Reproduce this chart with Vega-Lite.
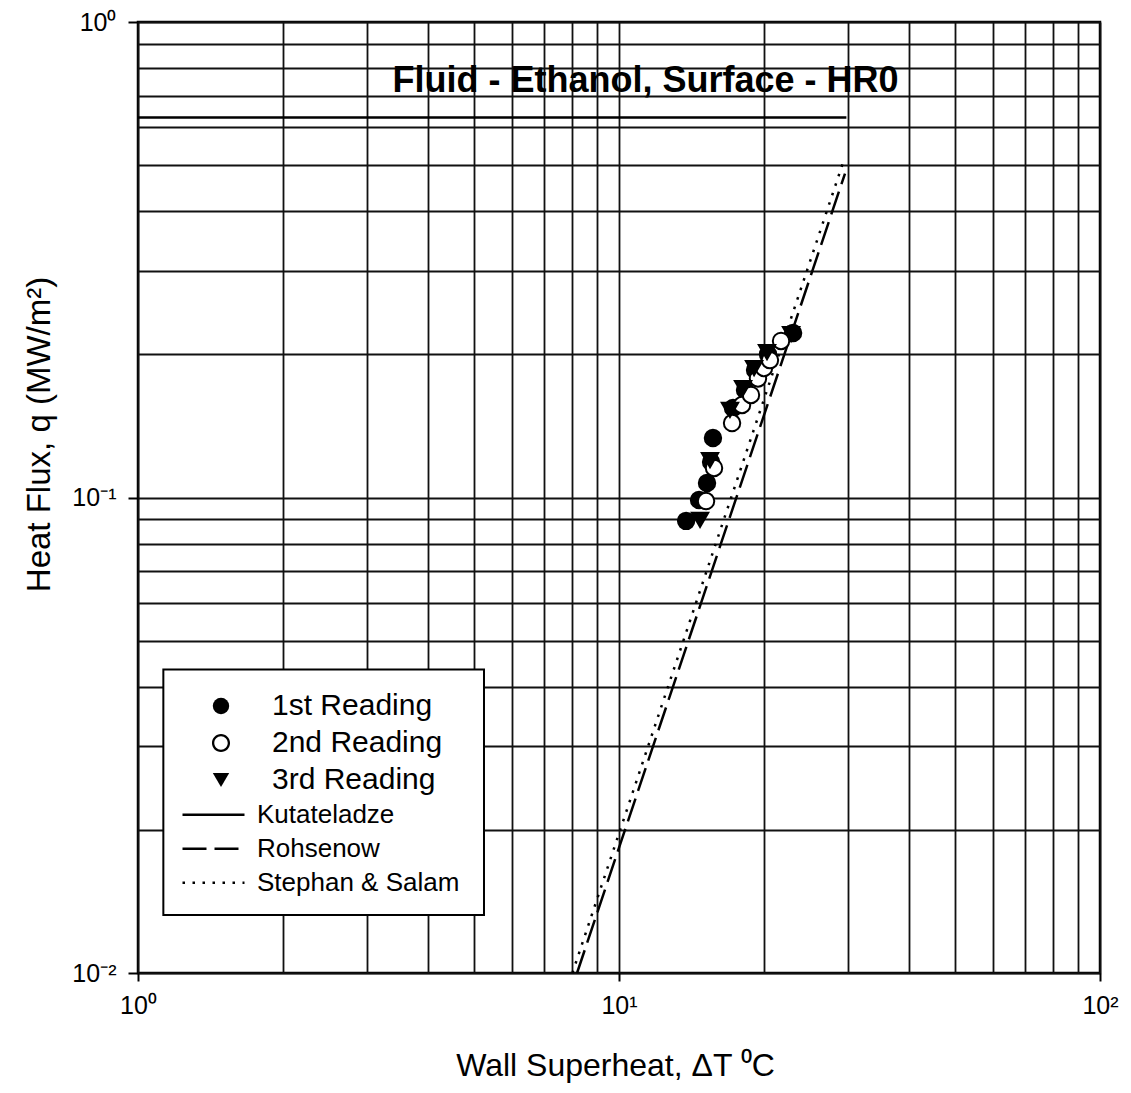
{
  "$schema": "https://vega.github.io/schema/vega-lite/v6.json",
  "width": 962,
  "height": 951,
  "autosize": {"type": "none"},
  "padding": {"left": 138, "top": 22, "right": 31, "bottom": 120},
  "background": "white",
  "config": {
    "view": {"stroke": "black", "strokeWidth": 2.5},
    "font": "Liberation Sans",
    "axis": {
      "grid": true,
      "gridColor": "#111111",
      "gridWidth": 1.8,
      "gridOpacity": 1,
      "domain": false,
      "tickColor": "black",
      "tickWidth": 2,
      "labelColor": "black",
      "labelFont": "Liberation Sans",
      "labelFontSize": 25,
      "labelOverlap": false,
      "labelFlush": false,
      "titleColor": "black",
      "titleFont": "Liberation Sans",
      "titleFontWeight": "normal"
    }
  },
  "resolve": {"scale": {"shape": "independent"}},
  "datasets": {
    "readings": [
      {"reading": "1st Reading", "dT": 13.79, "q": 0.0893},
      {"reading": "1st Reading", "dT": 14.67, "q": 0.0988},
      {"reading": "1st Reading", "dT": 15.24, "q": 0.1073},
      {"reading": "1st Reading", "dT": 15.54, "q": 0.1188},
      {"reading": "1st Reading", "dT": 15.68, "q": 0.1334},
      {"reading": "1st Reading", "dT": 17.26, "q": 0.1543},
      {"reading": "1st Reading", "dT": 18.28, "q": 0.1683},
      {"reading": "1st Reading", "dT": 19.18, "q": 0.1854},
      {"reading": "1st Reading", "dT": 20.41, "q": 0.2002},
      {"reading": "1st Reading", "dT": 23.01, "q": 0.2218},
      {"reading": "2nd Reading", "dT": 15.17, "q": 0.0983},
      {"reading": "2nd Reading", "dT": 15.76, "q": 0.1154},
      {"reading": "2nd Reading", "dT": 17.18, "q": 0.1434},
      {"reading": "2nd Reading", "dT": 18.02, "q": 0.1565},
      {"reading": "2nd Reading", "dT": 18.81, "q": 0.1643},
      {"reading": "2nd Reading", "dT": 19.45, "q": 0.178},
      {"reading": "2nd Reading", "dT": 20.02, "q": 0.1872},
      {"reading": "2nd Reading", "dT": 20.6, "q": 0.1945},
      {"reading": "2nd Reading", "dT": 21.72, "q": 0.2134},
      {"reading": "3rd Reading", "dT": 14.74, "q": 0.0897},
      {"reading": "3rd Reading", "dT": 15.46, "q": 0.1199},
      {"reading": "3rd Reading", "dT": 17.01, "q": 0.1528},
      {"reading": "3rd Reading", "dT": 18.11, "q": 0.1699},
      {"reading": "3rd Reading", "dT": 19.09, "q": 0.1872},
      {"reading": "3rd Reading", "dT": 20.31, "q": 0.2022},
      {"reading": "3rd Reading", "dT": 22.79, "q": 0.2207}
    ],
    "correlations": [
      {"model": "Kutateladze", "dT": 1, "q": 0.63},
      {"model": "Kutateladze", "dT": 29.7, "q": 0.63},
      {"model": "Rohsenow", "dT": 8.18, "q": 0.01},
      {"model": "Rohsenow", "dT": 29.5, "q": 0.48},
      {"model": "Stephan & Salam", "dT": 8.0, "q": 0.01},
      {"model": "Stephan & Salam", "dT": 29.3, "q": 0.51}
    ]
  },
  "layer": [
    {
      "data": {"name": "correlations"},
      "mark": {"type": "line", "color": "black", "strokeWidth": 2.5},
      "encoding": {
        "x": {
          "field": "dT",
          "type": "quantitative",
          "scale": {"type": "log", "domain": [1, 100], "nice": false},
          "axis": {
            "values": [1, 2, 3, 4, 5, 6, 7, 8, 9, 10, 20, 30, 40, 50, 60, 70, 80, 90, 100],
            "labelExpr": "datum.value == 1 ? '10⁰' : datum.value == 10 ? '10¹' : datum.value == 100 ? '10²' : ''",
            "tickSize": 8,
            "tickOpacity": {"condition": {"test": "datum.value == 1 || datum.value == 10 || datum.value == 100", "value": 1}, "value": 0},
            "labelPadding": 12,
            "title": "Wall Superheat, ΔT ⁰C",
            "titleFontSize": 32,
            "titleX": 477,
            "titleY": 92,
            "titleBaseline": "middle"
          }
        },
        "y": {
          "field": "q",
          "type": "quantitative",
          "scale": {"type": "log", "domain": [0.01, 1], "nice": false},
          "axis": {
            "values": [0.01, 0.02, 0.03, 0.04, 0.05, 0.06, 0.07, 0.08, 0.09, 0.1, 0.2, 0.3, 0.4, 0.5, 0.6, 0.7, 0.8, 0.9, 1],
            "labelExpr": "datum.value == 0.01 ? '10⁻²' : datum.value == 0.1 ? '10⁻¹' : datum.value == 1 ? '10⁰' : ''",
            "tickSize": 10,
            "tickOpacity": {"condition": {"test": "datum.value == 0.01 || datum.value == 0.1 || datum.value == 1", "value": 1}, "value": 0},
            "labelPadding": 12,
            "title": "Heat Flux, q (MW/m²)",
            "titleFontSize": 33,
            "titleX": -99,
            "titleY": 412,
            "titleAngle": -90,
            "titleAlign": "center",
            "titleBaseline": "middle"
          }
        },
        "strokeDash": {
          "field": "model",
          "type": "nominal",
          "scale": {
            "domain": ["Kutateladze", "Rohsenow", "Stephan & Salam"],
            "range": [[1, 0], [24, 8], [2.5, 7.5]]
          },
          "legend": {
            "title": null,
            "orient": "none",
            "legendX": 43,
            "legendY": 776,
            "padding": 0,
            "symbolType": "stroke",
            "symbolSize": 3844,
            "symbolStrokeWidth": 2.5,
            "symbolStrokeColor": "black",
            "clipHeight": 33.5,
            "labelFont": "Liberation Sans",
            "labelFontSize": 26,
            "labelColor": "black",
            "labelOffset": 11,
            "labelLimit": 400,
            "rowPadding": 0
          }
        }
      }
    },
    {
      "data": {"values": [{}]},
      "mark": {"type": "rect", "fill": "white", "stroke": "black", "strokeWidth": 2},
      "encoding": {
        "x": {"datum": 1.129},
        "x2": {"datum": 5.24},
        "y": {"datum": 0.0435},
        "y2": {"datum": 0.01324}
      }
    },
    {
      "data": {"name": "readings"},
      "mark": {"type": "point", "filled": false, "color": "black", "strokeWidth": 2, "size": 270, "opacity": 1},
      "encoding": {
        "x": {"field": "dT", "type": "quantitative"},
        "y": {"field": "q", "type": "quantitative"},
        "shape": {
          "field": "reading",
          "type": "nominal",
          "scale": {
            "domain": ["1st Reading", "2nd Reading", "3rd Reading"],
            "range": ["circle", "circle", "triangle-down"]
          },
          "legend": null
        },
        "fill": {
          "field": "reading",
          "type": "nominal",
          "scale": {
            "domain": ["1st Reading", "2nd Reading", "3rd Reading"],
            "range": ["black", "white", "black"]
          },
          "legend": null
        }
      }
    },
    {
      "data": {"name": "readings"},
      "mark": {"type": "point", "filled": true, "color": "black", "size": 270, "opacity": 0},
      "encoding": {
        "x": {"field": "dT", "type": "quantitative"},
        "y": {"field": "q", "type": "quantitative"},
        "shape": {
          "field": "reading",
          "type": "nominal",
          "scale": {
            "domain": ["1st Reading", "2nd Reading", "3rd Reading"],
            "range": [
              "circle",
              "M1.1,0A1.1,1.1,0,1,1,-1.1,0A1.1,1.1,0,1,1,1.1,0ZM0.82,0A0.82,0.82,0,1,0,-0.82,0A0.82,0.82,0,1,0,0.82,0Z",
              "triangle-down"
            ]
          },
          "legend": {
            "title": null,
            "orient": "none",
            "legendX": 68,
            "legendY": 669,
            "padding": 0,
            "symbolSize": 270,
            "symbolOpacity": 1,
            "symbolFillColor": "black",
            "symbolStrokeWidth": 0,
            "labelFont": "Liberation Sans",
            "labelFontSize": 30,
            "labelColor": "black",
            "labelOffset": 36,
            "labelLimit": 400,
            "rowPadding": 7
          }
        }
      }
    },
    {
      "data": {"values": [{"label": "Fluid - Ethanol, Surface - HR0"}]},
      "mark": {"type": "text", "font": "Liberation Sans", "fontSize": 36, "fontWeight": "bold", "color": "black", "align": "center", "baseline": "middle"},
      "encoding": {
        "x": {"datum": 11.35},
        "y": {"datum": 0.75},
        "text": {"field": "label"}
      }
    }
  ]
}
